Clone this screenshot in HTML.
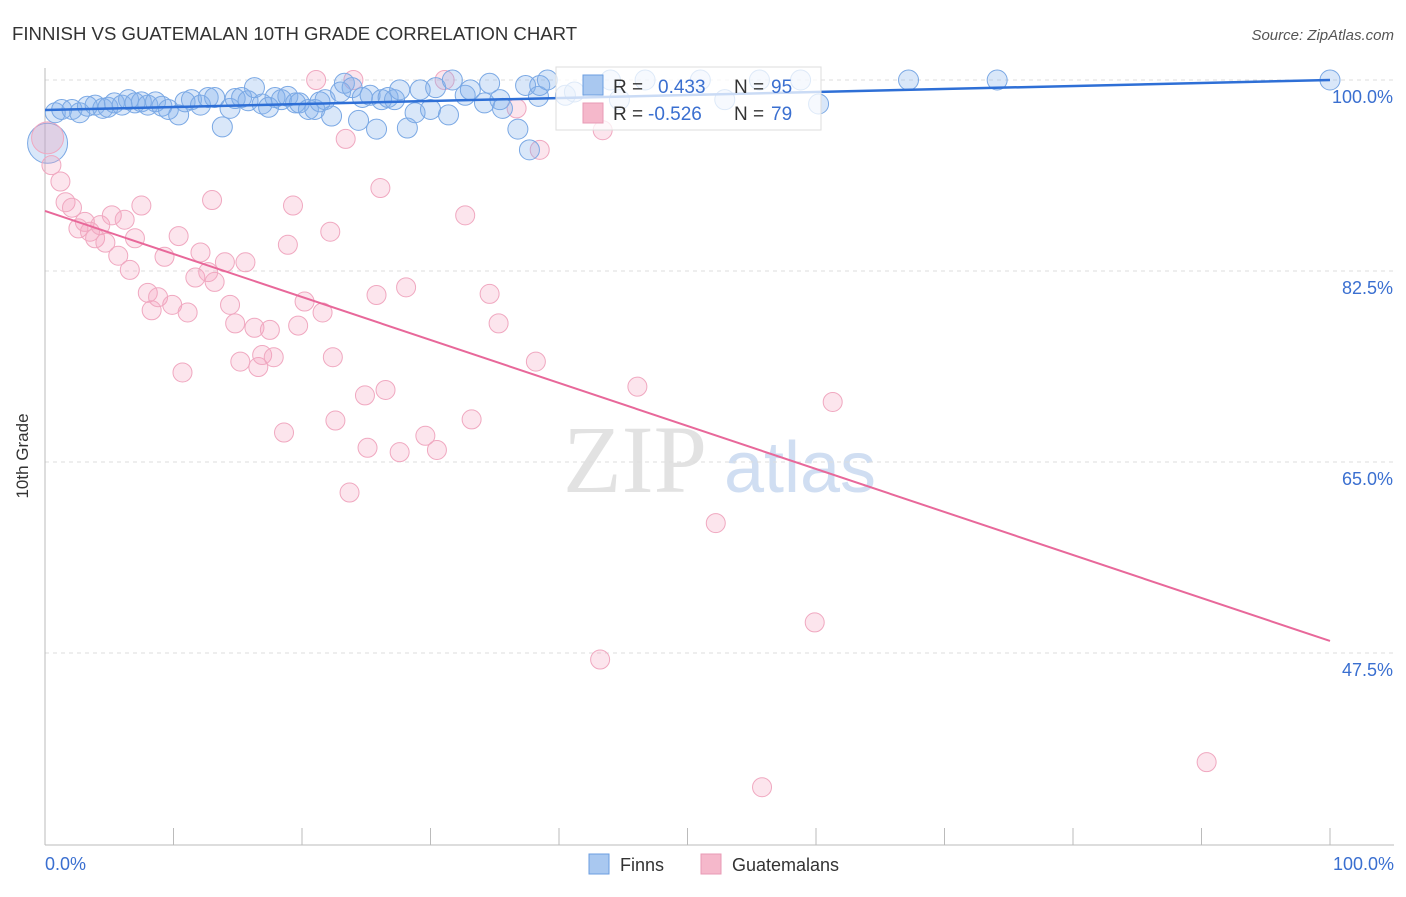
<!DOCTYPE html>
<html><head><meta charset="utf-8"><style>
body{margin:0;background:#fff;font-family:"Liberation Sans",sans-serif}
</style></head><body>
<svg id="c" width="1406" height="892" xmlns="http://www.w3.org/2000/svg" style="font-family:'Liberation Sans',sans-serif">
<text x="12" y="40" font-size="18.6" fill="#333">FINNISH VS GUATEMALAN 10TH GRADE CORRELATION CHART</text>
<text x="1394" y="40" font-size="15" fill="#555" text-anchor="end" font-style="italic">Source: ZipAtlas.com</text>
<text x="28" y="456" font-size="17" fill="#333" text-anchor="middle" transform="rotate(-90 28 456)">10th Grade</text>
<g><text x="635" y="492" font-size="96" fill="#e2e2e2" text-anchor="middle" font-family="Liberation Serif,serif">ZIP</text><text x="800" y="492" font-size="72" fill="#d0def2" text-anchor="middle">atlas</text></g>
<g id="grid"></g><g id="axes"></g><g id="pts"></g><g id="lines"></g>
<g>
<rect x="556" y="67" width="265" height="63" fill="rgba(255,255,255,0.75)" stroke="#ddd"/>
<rect x="583" y="75" width="20" height="20" fill="#a9c8f0" stroke="#6b9ee0"/>
<rect x="583" y="103" width="20" height="20" fill="#f5b8cb" stroke="#e89ab5"/>
<text x="613" y="93" font-size="19" fill="#333">R = </text><text x="658" y="93" font-size="19" fill="#3a6fd0">0.433</text>
<text x="734" y="93" font-size="19" fill="#333">N = </text><text x="771" y="93" font-size="19" fill="#3a6fd0">95</text>
<text x="613" y="120" font-size="19" fill="#333">R = </text><text x="648" y="120" font-size="19" fill="#3a6fd0">-0.526</text>
<text x="734" y="120" font-size="19" fill="#333">N = </text><text x="771" y="120" font-size="19" fill="#3a6fd0">79</text>
</g>
<g>
<rect x="589" y="854" width="20" height="20" fill="#a9c8f0" stroke="#6b9ee0"/><text x="620" y="871" font-size="18" fill="#333">Finns</text>
<rect x="701" y="854" width="20" height="20" fill="#f5b8cb" stroke="#e89ab5"/><text x="732" y="871" font-size="18" fill="#333">Guatemalans</text>
</g>
</svg>
<script>
const yTicks=[100,82.5,65,47.5];
const yTickLabels=["100.0%","82.5%","65.0%","47.5%"];
const xTickLabels=["0.0%","100.0%"];
const blueX=[0.8,1.3,2.1,2.7,3.3,3.9,4.5,4.9,5.4,6.0,6.5,7.0,7.5,8.0,8.6,9.1,9.6,10.4,10.9,11.4,12.1,12.7,13.2,13.8,14.4,14.8,15.3,15.8,16.3,16.9,17.4,17.9,18.4,18.9,19.5,19.8,20.5,21.0,21.4,21.8,22.3,23.0,23.3,23.9,24.4,24.7,25.3,25.8,26.2,26.7,27.2,27.6,28.2,28.8,29.2,30.0,30.4,31.4,31.7,32.7,33.1,34.2,34.6,35.4,35.6,36.8,37.4,37.7,38.4,38.5,39.1,40.5,41.2,44.0,44.7,46.7,51.0,52.9,55.6,58.8,60.2,67.2,74.1,100];
const blueY=[97.0,97.3,97.3,97.0,97.6,97.7,97.4,97.5,97.9,97.7,98.2,97.9,98.0,97.7,98.0,97.6,97.3,96.8,98.0,98.2,97.7,98.4,98.4,95.7,97.4,98.3,98.4,98.1,99.3,97.8,97.5,98.4,98.2,98.5,97.9,97.9,97.3,97.3,98.0,98.2,96.7,98.9,99.7,99.3,96.3,98.4,98.6,95.5,98.2,98.4,98.2,99.1,95.6,97.0,99.1,97.3,99.3,96.8,100,98.6,99.1,97.9,99.7,98.2,97.4,95.5,99.5,93.6,98.5,99.5,100,98.6,98.9,100,98.2,100,100,98.2,100,100,97.8,100,100,100];
const pinkX=[0.5,1.2,1.6,2.1,2.6,3.1,3.5,3.9,4.3,4.7,5.2,5.7,6.2,6.6,7.0,7.5,8.0,8.3,8.8,9.3,9.9,10.4,10.7,11.1,11.7,12.1,12.7,13.0,13.2,14.0,14.4,14.8,15.2,15.6,16.3,16.6,16.9,17.5,17.8,18.6,18.9,19.3,19.7,20.2,21.1,21.6,22.2,22.4,22.6,23.4,23.7,24.0,24.9,25.1,25.8,26.1,26.5,27.6,28.1,29.6,30.5,31.1,32.7,33.2,34.6,35.3,36.7,38.2,38.5,43.2,43.4,46.1,52.2,55.8,59.9,61.3,90.4];
const pinkY=[92.2,90.7,88.8,88.3,86.4,87.0,86.1,85.5,86.7,85.1,87.6,83.9,87.2,82.6,85.5,88.5,80.5,78.9,80.1,83.8,79.4,85.7,73.2,78.7,81.9,84.2,82.4,89.0,81.5,83.3,79.4,77.7,74.2,83.3,77.3,73.7,74.8,77.1,74.6,67.7,84.9,88.5,77.5,79.7,100,78.7,86.1,74.6,68.8,94.6,62.2,100,71.1,66.3,80.3,90.1,71.6,65.9,81.0,67.4,66.1,100,87.6,68.9,80.4,77.7,97.4,74.2,93.6,46.9,95.4,71.9,59.4,35.2,50.3,70.5,37.5];
const blueTrend=[97.25,100];
const pinkTrend=[88.0,48.6];
const NS="http://www.w3.org/2000/svg";
const X=v=>45+v*12.85, Y=v=>80+(100-v)*10.914;
function mk(t,a,p){const e=document.createElementNS(NS,t);for(const k in a)e.setAttribute(k,a[k]);document.getElementById(p).appendChild(e);return e;}
yTicks.forEach((t,i)=>{
 const g=mk('line',{x1:45,x2:1394,y1:Y(t),y2:Y(t),stroke:'#ddd','stroke-dasharray':'4,4'},'grid');
 
 
 const l=mk('text',{x:1393,y:Y(t)+23,'font-size':18,fill:'#3a6fd0','text-anchor':'end'},'grid');
 l.textContent=yTickLabels[i];
 
 
});
const ya=mk('line',{x1:45,x2:45,y1:68,y2:845,stroke:'#bbb'},'axes');


const xa=mk('line',{x1:45,x2:1394,y1:845,y2:845,stroke:'#bbb'},'axes');


for(let i=0;i<=10;i++){const t=mk('line',{x1:X(i*10),x2:X(i*10),y1:828,y2:845,stroke:'#bbb'},'axes');
 
 }
[[0,'start',45],[100,'end',1394]].forEach((d,i)=>{const t=mk('text',{x:d[2],y:870,'font-size':18,fill:'#3a6fd0','text-anchor':d[1]},'axes');t.textContent=xTickLabels[i];
 
 });
const bb=mk('circle',{cx:X(0.2),cy:Y(94.2),r:20,fill:'rgba(130,175,235,0.3)',stroke:'#7aa8e4'},'pts');


const pb=mk('circle',{cx:X(0.2),cy:Y(94.7),r:16,fill:'rgba(240,150,180,0.28)',stroke:'#f0a8c0'},'pts');


pinkX.forEach((x,i)=>{const c=mk('circle',{cx:X(x),cy:Y(pinkY[i]),r:9.5,fill:'rgba(245,160,190,0.28)',stroke:'#f0a8c0'},'pts');
 
 });
blueX.forEach((x,i)=>{const c=mk('circle',{cx:X(x),cy:Y(blueY[i]),r:10,fill:'rgba(130,175,235,0.3)',stroke:'#7aa8e4'},'pts');
 
 });
const bl=mk('line',{x1:X(0),y1:Y(blueTrend[0]),x2:X(100),y2:Y(blueTrend[1]),stroke:'#2e6fd6','stroke-width':2.5},'lines');


const pl=mk('line',{x1:X(0),y1:Y(pinkTrend[0]),x2:X(100),y2:Y(pinkTrend[1]),stroke:'#e8689a','stroke-width':2},'lines');


</script>
</body></html>
